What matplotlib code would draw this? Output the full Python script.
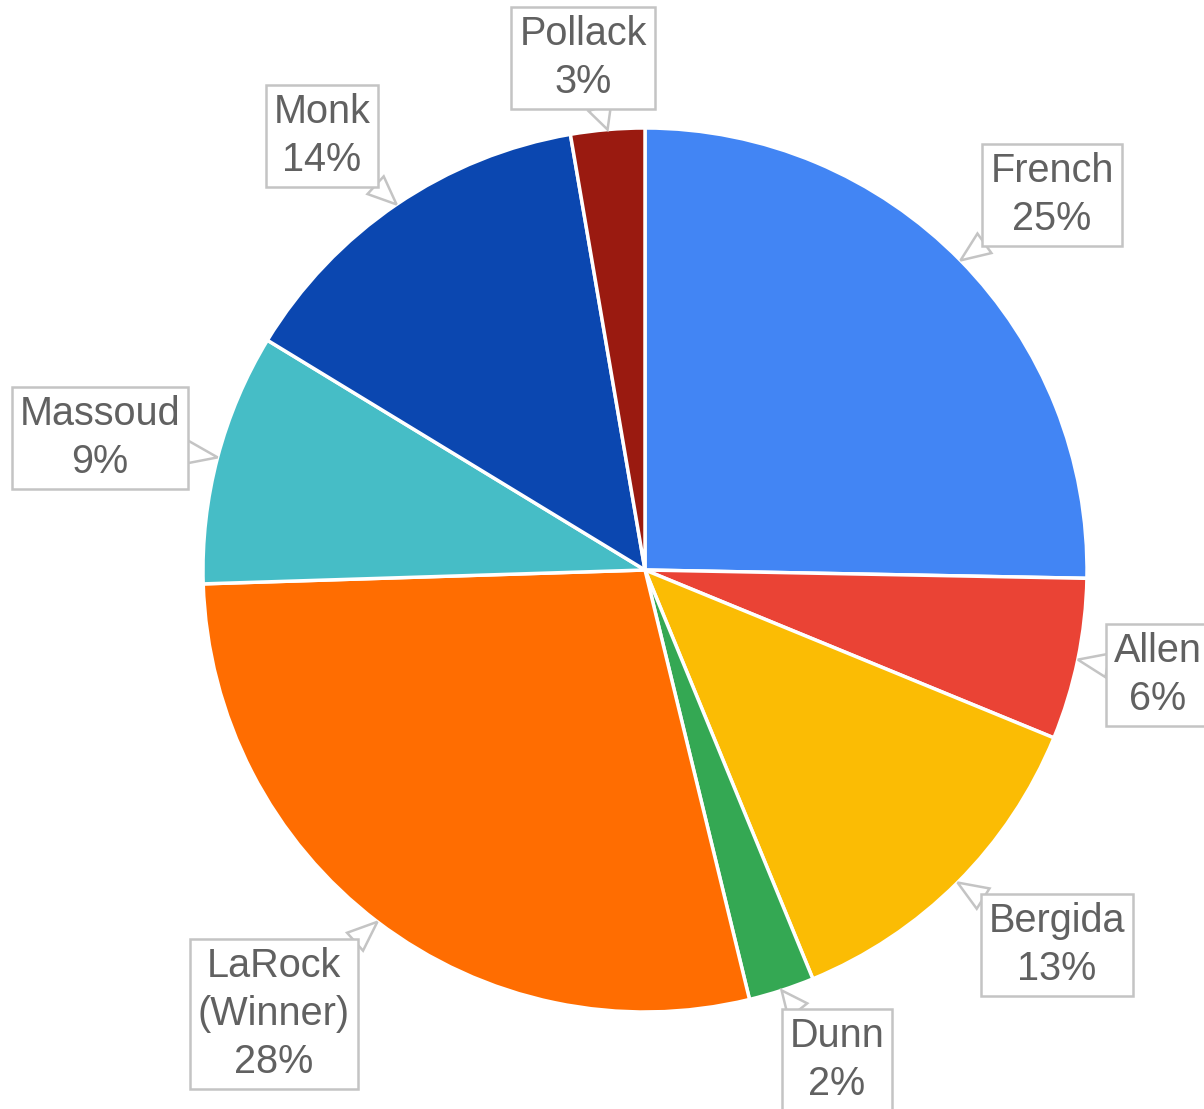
import matplotlib
matplotlib.use("Agg")
import matplotlib.pyplot as plt
from matplotlib.patches import Polygon
import numpy as np

# candidates, clockwise from 12 o'clock
names = ["French", "Allen", "Bergida", "Dunn", "LaRock\n(Winner)", "Massoud", "Monk", "Pollack"]
shares = [25.3, 5.9, 12.6, 2.4, 28.3, 9.2, 13.6, 2.7]
colors = ["#4285F4", "#EA4335", "#FBBC04", "#34A853", "#FF6D01", "#46BDC6", "#0B47B0", "#9A1A10"]

# label box centres (pixels, from top-left)
label_pos = [(1052, 195), (1158, 675), (1057, 945), (837, 1060),
             (274, 1014), (100, 438), (322, 136), (583, 58)]

W, H = 1204, 1109
fig = plt.figure(figsize=(W / 100, H / 100), dpi=100)
ax = fig.add_axes([0, 0, 1, 1])

cx, cy, r = 645, H - 570, 442
wedges, _ = ax.pie(shares, colors=colors, startangle=90, counterclock=False,
                   center=(cx, cy), radius=r, frame=True,
                   wedgeprops=dict(edgecolor="white", linewidth=2.5))
ax.set_xlim(0, W)
ax.set_ylim(0, H)
ax.set_aspect("equal")
ax.axis("off")

grey = "#c4c4c4"
labels = []
for w, name, v, (lx, ly) in zip(wedges, names, shares, label_pos):
    t = ax.text(lx, H - ly, f"{name}\n{round(v)}%", ha="center", va="center",
                fontsize=28.5, color="#616161", family=["Liberation Sans", "DejaVu Sans"],
                linespacing=1.32, zorder=4, clip_on=False,
                bbox=dict(boxstyle="square,pad=0.2", fc="white", ec=grey, lw=1.8))
    labels.append(t)

fig.canvas.draw()
inv = ax.transData.inverted()
for w, t in zip(wedges, labels):
    mid = np.deg2rad((w.theta1 + w.theta2) / 2)
    tip = np.array([cx + r * np.cos(mid), cy + r * np.sin(mid)])
    ext = t.get_bbox_patch().get_window_extent()
    (x0, y0), (x1, y1) = inv.transform([[ext.x0, ext.y0], [ext.x1, ext.y1]])
    c = np.array([(x0 + x1) / 2, (y0 + y1) / 2])
    d = tip - c
    # where the line to the tip leaves the box
    s = min(((x1 - x0) / 2) / abs(d[0]) if d[0] else np.inf,
            ((y1 - y0) / 2) / abs(d[1]) if d[1] else np.inf)
    base = c + d * s * 0.97
    n = np.array([-d[1], d[0]]) / np.hypot(*d)
    half = 12
    tail = Polygon([base + n * half, tip, base - n * half], closed=True,
                   fc="white", ec=grey, lw=1.8, zorder=3, clip_on=False)
    ax.add_patch(tail)

fig.savefig("out.png", dpi=100)
